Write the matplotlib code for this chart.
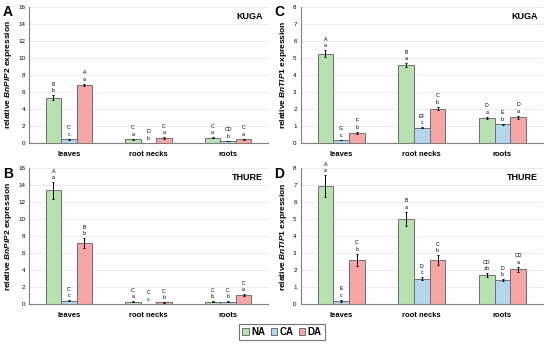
import numpy as np
import matplotlib.pyplot as plt
from matplotlib.patches import Patch

plt.rcParams['font.family'] = ['Liberation Sans', 'DejaVu Sans']
plt.rcParams['mathtext.fontset'] = 'custom'
plt.rcParams['mathtext.it'] = 'Liberation Sans:bold:italic'
plt.rcParams['mathtext.rm'] = 'Liberation Sans:bold'

# Categories and treatments
tissues = ['leaves', 'root necks', 'roots']
treatments = ['NA', 'CA', 'DA']
colors = ['#b8e0b0', '#b3d5ee', '#f6a6a6']

# A: BnPIP2, KUGA (rows = NA, CA, DA; columns = tissues)
a_vals = [[5.3, 0.45, 0.6], [0.45, 0.03, 0.25], [6.8, 0.55, 0.45]]
a_err = [[0.3, 0.05, 0.05], [0.05, 0.01, 0.03], [0.15, 0.1, 0.05]]
a_up = [['B', 'C', 'C'], ['C', 'D', 'CD'], ['A', 'C', 'C']]
a_lo = [['b', 'a', 'a'], ['c', 'b', 'b'], ['a', 'a', 'a']]

# B: BnPIP2, THURE
b_vals = [[13.4, 0.3, 0.3], [0.4, 0.05, 0.3], [7.2, 0.2, 1.05]]
b_err = [[1.0, 0.03, 0.05], [0.05, 0.01, 0.03], [0.6, 0.03, 0.1]]
b_up = [['A', 'C', 'C'], ['C', 'C', 'C'], ['B', 'C', 'C']]
b_lo = [['a', 'a', 'b'], ['c', 'c', 'b'], ['b', 'b', 'a']]

# C: BnTIP1, KUGA
c_vals = [[5.25, 4.55, 1.48], [0.18, 0.9, 1.1], [0.6, 2.02, 1.5]]
c_err = [[0.2, 0.12, 0.07], [0.02, 0.03, 0.04], [0.05, 0.1, 0.1]]
c_up = [['A', 'B', 'D'], ['G', 'EF', 'E'], ['F', 'C', 'D']]
c_lo = [['a', 'a', 'a'], ['c', 'c', 'b'], ['b', 'b', 'a']]

# D: BnTIP1, THURE
d_vals = [[6.95, 5.02, 1.7], [0.2, 1.5, 1.42], [2.62, 2.6, 2.05]]
d_err = [[0.65, 0.42, 0.12], [0.05, 0.08, 0.05], [0.35, 0.3, 0.15]]
d_up = [['A', 'B', 'CD'], ['E', 'D', 'D'], ['C', 'C', 'CD']]
d_lo = [['a', 'a', 'ab'], ['c', 'c', 'b'], ['b', 'b', 'a']]

fig = plt.figure(figsize=(5.5, 3.48), dpi=100)

panels = [
    ('A', 'KUGA', 'BnPIP2', a_vals, a_err, a_up, a_lo, 16, 2, [0.053, 0.589, 0.434, 0.392]),
    ('B', 'THURE', 'BnPIP2', b_vals, b_err, b_up, b_lo, 16, 2, [0.053, 0.126, 0.434, 0.390]),
    ('C', 'KUGA', 'BnTIP1', c_vals, c_err, c_up, c_lo, 8, 1, [0.547, 0.589, 0.440, 0.392]),
    ('D', 'THURE', 'BnTIP1', d_vals, d_err, d_up, d_lo, 8, 1, [0.547, 0.126, 0.440, 0.390]),
]

x = np.arange(len(tissues))
w = 0.195

for letter, cultivar, gene, vals, errs, up, lo, ymax, step, pos in panels:
    ax = fig.add_axes(pos)
    ax.set_ylim(0, ymax)
    ax.set_xlim(-0.5, 2.5)
    ax.set_yticks(np.arange(0, ymax + 0.1, step))
    ax.yaxis.grid(True, color='#e8e8e8', lw=0.6)
    ax.set_axisbelow(True)
    for i in range(3):
        xs = x + (i - 1) * w
        ax.bar(xs, vals[i], w, color=colors[i], edgecolor='#707070', lw=0.7,
               yerr=errs[i], error_kw=dict(ecolor='black', elinewidth=0.7, capsize=1, capthick=0.7))
        for j in range(3):
            top = vals[i][j] + errs[i][j] + ymax * 0.015
            ax.text(xs[j], top, lo[i][j], ha='center', va='bottom', fontsize=3.8)
            ax.text(xs[j], top + ymax * 0.047, up[i][j], ha='center', va='bottom', fontsize=3.8)
    ax.set_xticks(x)
    ax.set_xticklabels(tissues, fontsize=5.5, fontweight='bold')
    ax.tick_params(axis='x', length=0, pad=6)
    ax.tick_params(axis='y', labelsize=4.5, length=0, pad=3)
    for s in ['top', 'right']:
        ax.spines[s].set_visible(False)
    for s in ['left', 'bottom']:
        ax.spines[s].set_color('#808080')
        ax.spines[s].set_linewidth(0.8)
    ax.set_ylabel('relative $\\mathit{' + gene + '}$ expression', fontsize=6, fontweight='bold', labelpad=3)
    ax.text(0.98, 0.93, cultivar, transform=ax.transAxes, ha='right', va='center',
            fontsize=6.5, fontweight='bold')
    ax.text(-0.11, 0.96, letter, transform=ax.transAxes, ha='left', va='center',
            fontsize=10, fontweight='bold')

handles = [Patch(facecolor=c, edgecolor='#707070', lw=0.7) for c in colors]
leg = fig.legend(handles, treatments, loc='center', bbox_to_anchor=(0.513, 0.046), ncol=3,
                 prop={'weight': 'bold', 'size': 7}, handlelength=0.7, handleheight=0.7,
                 handletextpad=0.25, columnspacing=0.5, fancybox=False, borderpad=0.35)
leg.get_frame().set_edgecolor('#505050')
leg.get_frame().set_linewidth(0.8)

fig.savefig('out.png', dpi=100)
